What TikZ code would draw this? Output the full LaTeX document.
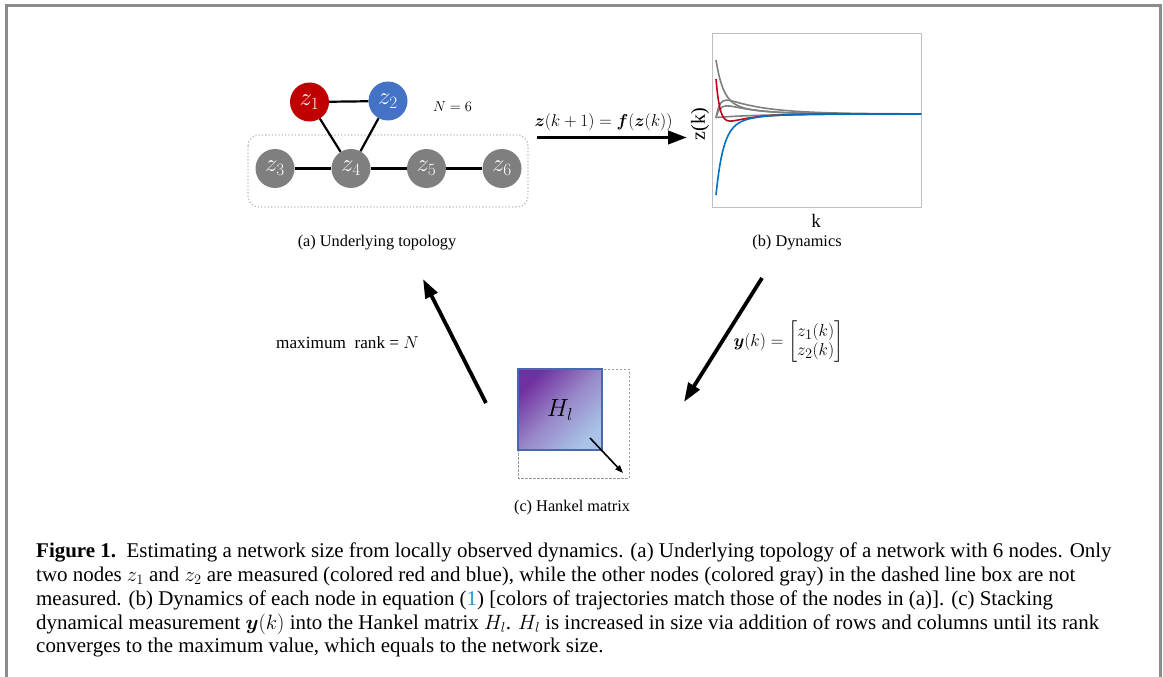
\documentclass[tikz,border=0pt]{standalone}
\usepackage{amsmath}
\usepackage{fontspec}
\setmainfont{Liberation Serif}
\usetikzlibrary{arrows.meta}
\definecolor{zred}{HTML}{C00000}
\definecolor{zblue}{HTML}{4472C4}
\definecolor{zgray}{HTML}{7F7F7F}
\definecolor{framegray}{HTML}{8C8C8C}
\definecolor{boxgray}{HTML}{BFBFBF}
\definecolor{trblue}{HTML}{0070C0}
\definecolor{trred}{HTML}{C00020}
\definecolor{hpurple}{HTML}{7030A0}
\definecolor{hmid}{HTML}{9888C8}
\definecolor{hblue}{HTML}{A9C4E8}
\definecolor{hedge}{HTML}{4A68B0}
\definecolor{citeblue}{HTML}{1A9BD7}
\tikzset{
  znode/.style={circle, minimum size=39pt, inner sep=0pt, text=white, font=\fontsize{23}{23}\selectfont},
  edge/.style={line width=2.2pt},
  bigarrow/.style={line width=3.8pt, -{Triangle[length=19pt,width=13pt]}},
  lbl/.style={font=\fontsize{16.3}{19}\selectfont},
  capline/.style={anchor=base west, inner sep=0pt, font=\fontsize{20.95}{23.7}\selectfont},
  traj/.style={line width=1.6pt, smooth}
}
\begin{document}
\begin{tikzpicture}[x=1pt,y=-1pt]
\useasboundingbox (0,0) rectangle (1163,677);
% outer frame, open at the bottom
\draw[framegray, line width=2.6pt] (6.5,690) -- (6.5,5.3) -- (1160.5,5.3) -- (1160.5,690);

% ---- (a) underlying topology ----
\draw[boxgray, line width=1.3pt, dotted, rounded corners=11pt] (248,135) rectangle (528,207);
\node[znode, fill=zred]  (z1) at (309.5,102) {$z_1$};
\node[znode, fill=zblue] (z2) at (388,101)   {$z_2$};
\node[znode, fill=zgray] (z3) at (275,168.5) {$z_3$};
\node[znode, fill=zgray] (z4) at (351,168.5) {$z_4$};
\node[znode, fill=zgray] (z5) at (426.5,168.5) {$z_5$};
\node[znode, fill=zgray] (z6) at (502,168.5) {$z_6$};
\draw[edge] (z1) -- (z2);
\draw[edge] (z1) -- (z4);
\draw[edge] (z2) -- (z4);
\draw[edge] (z3) -- (z4);
\draw[edge] (z4) -- (z5);
\draw[edge] (z5) -- (z6);
\node[lbl, font=\fontsize{15}{15}\selectfont] (nsize) at (452.5,107) {$N=6$};
\node[lbl] (capa) at (377,243) {(a) Underlying topology};

% ---- (b) dynamics ----
\coordinate (arrA) at (537,137.5);
\coordinate (arrB) at (687,137.5);
\draw[bigarrow] (arrA) -- (arrB);
\node[lbl, font=\fontsize{17.4}{17.4}\selectfont] (dyn) at (603.5,122) {$\boldsymbol{z}(k+1)=\boldsymbol{f}(\boldsymbol{z}(k))$};
\node[draw=boxgray, line width=1pt, minimum width=209pt, minimum height=173pt, inner sep=0pt] (plotbox) at (816.5,120.5) {};
\begin{scope}
\clip (712,34) rectangle (921,207);
\draw[zgray, traj] plot[domain=0:205, samples=150] ({716+\x},{114-54*(0.75*exp(-\x/7)+0.25*exp(-\x/30))});
\draw[zgray, traj] plot[domain=0:205, samples=120] ({716+\x},{114+4*exp(-\x/3)-20*(exp(-\x/40)-exp(-\x/4))});
\draw[zgray, traj] plot[domain=0:205, samples=120] ({716+\x},{114+3*exp(-\x/3)-14*(exp(-\x/30)-exp(-\x/5))});
\draw[zgray, traj] plot[domain=0:205, samples=120] ({716+\x},{114+3.5*exp(-\x/45)});
\draw[trred, traj] plot[domain=0:205, samples=150] ({716+\x},{114-35*exp(-\x/4)+15*(exp(-\x/25)-exp(-\x/4))});
\draw[trblue, traj] plot[domain=0:205, samples=150] ({716+\x},{114+81*(0.8*exp(-\x/7)+0.2*exp(-\x/25))});
\end{scope}
\node[font=\fontsize{20}{20}\selectfont, rotate=90] (zk) at (700,124) {z(k)};
\node[font=\fontsize{19}{19}\selectfont] (kk) at (816,221) {k};
\node[lbl] (capb) at (797,243) {(b) Dynamics};

% ---- (c) Hankel matrix ----
\draw[boxgray!80!black, line width=0.9pt, dashed, dash pattern=on 2.5pt off 1.5pt] (518,369) rectangle (629,478);
\node[draw=hedge, line width=1.2pt, top color=hpurple, bottom color=hblue, middle color=hmid, shading angle=45, minimum width=84pt, minimum height=81pt, inner sep=0pt] (hank) at (560,409.5) {};
\node[font=\fontsize{26}{26}\selectfont] (hl) at (560,410) {$H_l$};
\coordinate (growA) at (590,438);
\coordinate (growB) at (623,473);
\draw[line width=1.6pt, -{Triangle[length=8pt,width=6pt]}] (growA) -- (growB);
\node[lbl] (capc) at (572,508) {(c) Hankel matrix};

% ---- cycle arrows ----
\coordinate (downA) at (762,278);
\coordinate (downB) at (684,402);
\draw[bigarrow] (downA) -- (downB);
\node[anchor=west, font=\fontsize{19}{19}\selectfont] (meas) at (730,342) {$\boldsymbol{y}(k)=\begin{bmatrix} z_1(k)\\ z_2(k)\end{bmatrix}$};
\coordinate (upA) at (486,403);
\coordinate (upB) at (423,279);
\draw[bigarrow] (upA) -- (upB);
\node[lbl, font=\fontsize{17.2}{19}\selectfont] (rank) at (347.5,343) {maximum\ \ rank = $N$};

% ---- caption ----
\node[capline] (c1) at (36,557) {\textbf{Figure 1.}\ \ Estimating a network size from locally observed dynamics. (a) Underlying topology of a network with 6 nodes. Only};
\node[capline] (c2) at (36,581) {two nodes $z_1$ and $z_2$ are measured (colored red and blue), while the other nodes (colored gray) in the dashed line box are not};
\node[capline] (c3) at (36,605) {measured. (b) Dynamics of each node in equation (\textcolor{citeblue}{1}) [colors of trajectories match those of the nodes in (a)]. (c) Stacking};
\node[capline] (c4) at (36,629) {dynamical measurement $\boldsymbol{y}(k)$ into the Hankel matrix $H_l$. $H_l$ is increased in size via addition of rows and columns until its rank};
\node[capline] (c5) at (36,652.5) {converges to the maximum value, which equals to the network size.};
\end{tikzpicture}
\end{document}
